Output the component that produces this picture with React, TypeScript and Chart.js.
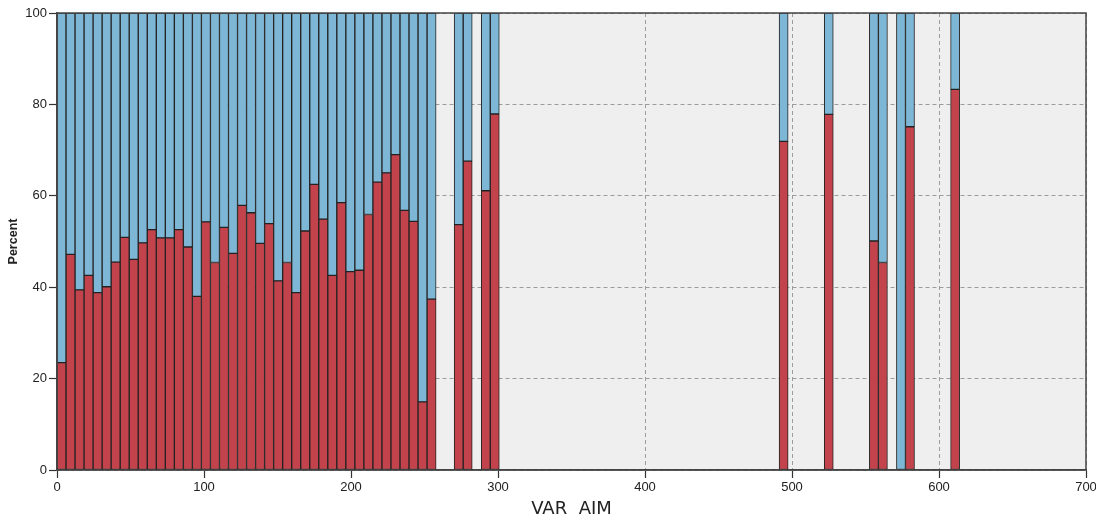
import React, { useEffect, useRef } from "react";
import { Chart, registerables } from "chart.js";

Chart.register(...registerables);

// ---- data ----
const X_MIN = 0;
const X_MAX = 700;
const BIN_COUNT = 114; // bins of equal width spanning 0..700
const occupiedBins = [
  0, 1, 2, 3, 4, 5, 6, 7, 8, 9, 10, 11, 12, 13, 14, 15, 16, 17, 18, 19, 20,
  21, 22, 23, 24, 25, 26, 27, 28, 29, 30, 31, 32, 33, 34, 35, 36, 37, 38, 39,
  40, 41, 44, 45, 47, 48, 80, 85, 90, 91, 93, 94, 99,
];
const redPercent = [
  23.5, 47.2, 39.4, 42.6, 38.8, 40.1, 45.5, 50.9, 46.1, 49.7, 52.6, 50.8, 50.8,
  52.6, 48.8, 38.0, 54.3, 45.4, 53.1, 47.4, 57.9, 56.3, 49.6, 53.9, 41.4, 45.4,
  38.8, 52.3, 62.5, 54.9, 42.6, 58.5, 43.4, 43.7, 55.9, 63.0, 65.0, 69.0, 56.8,
  54.4, 14.9, 37.4, 53.7, 67.6, 61.1, 77.9, 71.9, 77.8, 50.1, 45.4, 0, 75.1,
  83.3,
];
const yTicks = [0, 20, 40, 60, 80, 100];
const xTickStep = 100;
const xTitle = "VAR  AIM";
const yTitle = "Percent";

const RED = "#C2434B";
const BLUE = "#7EB7D6";

export default function App() {
  const canvasRef = useRef<HTMLCanvasElement | null>(null);

  useEffect(() => {
    if (!canvasRef.current) return;
    const binWidth = (X_MAX - X_MIN) / BIN_COUNT;
    const labels: string[] = [];
    const red: (number | null)[] = [];
    const blue: (number | null)[] = [];
    for (let i = 0; i < BIN_COUNT; i++) {
      labels.push((X_MIN + i * binWidth).toFixed(1));
      const k = occupiedBins.indexOf(i);
      if (k >= 0) {
        red.push(redPercent[k]);
        blue.push(100 - redPercent[k]);
      } else {
        red.push(null);
        blue.push(null);
      }
    }

    const bgPlugin = {
      id: "plotBg",
      beforeDraw(chart: any) {
        const { ctx, chartArea } = chart;
        ctx.save();
        ctx.fillStyle = "#EFEFEF";
        ctx.fillRect(chartArea.left, chartArea.top, chartArea.right - chartArea.left, chartArea.bottom - chartArea.top);
        ctx.restore();
      },
      afterDraw(chart: any) {
        const { ctx, chartArea } = chart;
        ctx.save();
        ctx.strokeStyle = "#454545";
        ctx.lineWidth = 1.5;
        ctx.strokeRect(chartArea.left, chartArea.top, chartArea.right - chartArea.left, chartArea.bottom - chartArea.top);
        ctx.restore();
      },
    };

    const tickFont = { family: "Arial, 'Liberation Sans', sans-serif", size: 13 };

    const chart = new Chart(canvasRef.current, {
      type: "bar",
      data: {
        labels,
        datasets: [
          {
            label: "Red",
            data: red,
            backgroundColor: RED,
            borderColor: "#222",
            borderWidth: 1,
            borderSkipped: false,
            xAxisID: "x",
            yAxisID: "y",
            categoryPercentage: 1,
            barPercentage: 1,
          },
          {
            label: "Blue",
            data: blue,
            backgroundColor: BLUE,
            borderColor: "#222",
            borderWidth: 1,
            borderSkipped: false,
            xAxisID: "x",
            yAxisID: "y",
            categoryPercentage: 1,
            barPercentage: 1,
          },
        ],
      },
      options: {
        responsive: false,
        animation: false,
        layout: { padding: { top: 13, right: 10, left: 0, bottom: 0 } },
        plugins: { legend: { display: false }, tooltip: { enabled: false } },
        scales: {
          x: {
            type: "category",
            display: false,
            stacked: true,
            offset: true,
            grid: { display: false },
          },
          x2: {
            type: "linear",
            position: "bottom",
            min: X_MIN,
            max: X_MAX,
            offset: false,
            ticks: {
              stepSize: xTickStep,
              color: "#222",
              font: tickFont,
              padding: 2,
              maxRotation: 0,
            },
            grid: {
              offset: false,
              color: "#9c9c9c",
              tickBorderDash: [],
              tickColor: "#333",
              tickLength: 8,
              tickWidth: 1.2,
              lineWidth: 1,
            },
            border: { display: true, color: "#454545", width: 1.5, dash: [4, 3] },
            title: {
              display: true,
              text: xTitle,
              color: "#222",
              font: { family: "'DejaVu Sans', sans-serif", size: 18 },
              padding: { top: 0, bottom: 3 },
            },
            afterFit(scale: any) {
              scale.height = 53;
              scale.paddingLeft = 0;
              scale.paddingRight = 0;
            },
          },
          y: {
            stacked: true,
            min: 0,
            max: 100,
            afterBuildTicks(scale: any) {
              scale.ticks = yTicks.map((v) => ({ value: v }));
            },
            ticks: { color: "#222", font: tickFont, padding: 2 },
            grid: {
              color: "#9c9c9c",
              tickBorderDash: [],
              tickColor: "#333",
              tickLength: 8,
              tickWidth: 1.2,
              lineWidth: 1,
            },
            border: { display: true, color: "#454545", width: 1.5, dash: [4, 3] },
            title: {
              display: true,
              text: yTitle,
              color: "#222",
              font: { family: "Arial, 'Liberation Sans', sans-serif", size: 12.5, weight: "bold" },
              padding: { top: 6, bottom: 0 },
            },
            afterFit(scale: any) {
              scale.width = 57;
              scale.paddingTop = 0;
              scale.paddingBottom = 0;
            },
          },
        },
      },
      plugins: [bgPlugin],
    } as any);

    return () => chart.destroy();
  }, []);

  return (
    <div style={{ position: "fixed", left: 0, top: 0, width: 1096, height: 523, background: "#fff" }}>
      <canvas ref={canvasRef} width={1096} height={523} />
    </div>
  );
}
